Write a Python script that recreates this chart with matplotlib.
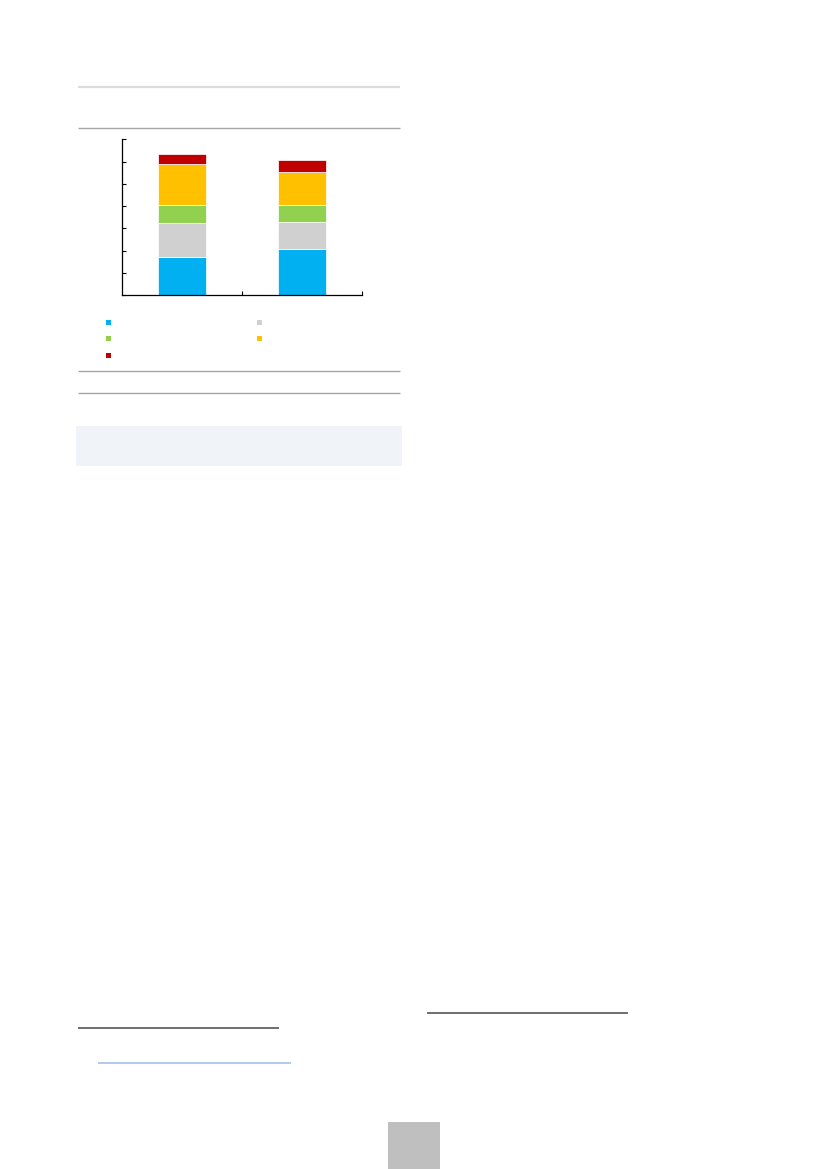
import matplotlib
matplotlib.use("Agg")
import matplotlib.pyplot as plt
from matplotlib.lines import Line2D
from matplotlib.patches import Rectangle
import numpy as np

W, H = 827, 1169

categories = ["", ""]
series_names = ["", "", "", "", ""]
series_colors = ["#00b0f0", "#d0d0d0", "#92d050", "#ffc000", "#c00000"]
blue_vals = [1.72, 2.08]
grey_vals = [1.52, 1.19]
green_vals = [0.79, 0.76]
yellow_vals = [1.86, 1.51]
red_vals = [0.45, 0.54]
y_ticks = [0, 1, 2, 3, 4, 5, 6, 7]

fig = plt.figure(figsize=(W / 100, H / 100), dpi=100)
fig.patch.set_facecolor("white")


def fx(x):
    return x / W


def fy(y):
    return 1 - y / H


def hline(x0, x1, y, color, lw):
    fig.add_artist(Line2D([fx(x0), fx(x1)], [fy(y), fy(y)], transform=fig.transFigure,
                          color=color, linewidth=lw, solid_capstyle="butt"))


# page decoration lines
hline(78, 400, 87, "#dcdcdc", 1.6)
hline(78, 400, 127.5, "#a6a6a6", 1.0)
hline(78, 400, 371, "#a6a6a6", 1.0)
hline(78, 400, 392.5, "#a6a6a6", 1.0)
fig.add_artist(Rectangle((fx(76), fy(466)), fx(402) - fx(76), fy(426) - fy(466),
                         transform=fig.transFigure, facecolor="#f0f3f8", edgecolor="none"))
hline(78, 278.5, 1027.5, "#555555", 1.2)
hline(427, 627.5, 1013, "#555555", 1.2)
hline(98, 291, 1062.5, "#a4c0e8", 1.2)
fig.add_artist(Rectangle((fx(387.5), fy(1169)), fx(440) - fx(387.5), fy(1121.5) - fy(1169),
                         transform=fig.transFigure, facecolor="#bfbfbf", edgecolor="none"))

# chart axes
left, right, top, bottom = 121.7, 362, 139.3, 295
ax = fig.add_axes([fx(left), fy(bottom), fx(right) - fx(left), fy(top) - fy(bottom)])
ax.set_facecolor("none")

x = np.arange(len(categories))
stack = [blue_vals, grey_vals, green_vals, yellow_vals, red_vals]
base = np.zeros(len(categories))
for vals, col, name in zip(stack, series_colors, series_names):
    ax.bar(x, vals, bottom=base, width=0.4, color=col, edgecolor="white", linewidth=0.5)
    base = base + np.array(vals)

ax.set_xlim(-0.5, 1.5)
ax.set_ylim(y_ticks[0], y_ticks[-1])
ax.set_yticks(y_ticks)
ax.set_yticklabels([])
ax.set_xticks([0.5, 1.5])
ax.set_xticklabels([])
ax.tick_params(axis="both", direction="in", length=3, width=0.8, color="black")
for s in ["top", "right"]:
    ax.spines[s].set_visible(False)
for s in ["left", "bottom"]:
    ax.spines[s].set_color("black")
    ax.spines[s].set_linewidth(0.9)

# legend markers (labels empty in the reference)
legend_pos = [(108.3, 322.3), (259.3, 322.3), (108.3, 338.7), (259.3, 338.7), (108.3, 355.3)]
sz = 5
for (lx, ly), col in zip(legend_pos, series_colors):
    fig.add_artist(Rectangle((fx(lx - sz / 2), fy(ly + sz / 2)), sz / W, sz / H,
                             transform=fig.transFigure, facecolor=col, edgecolor="none"))

fig.savefig("out.png", dpi=100, facecolor="white")
